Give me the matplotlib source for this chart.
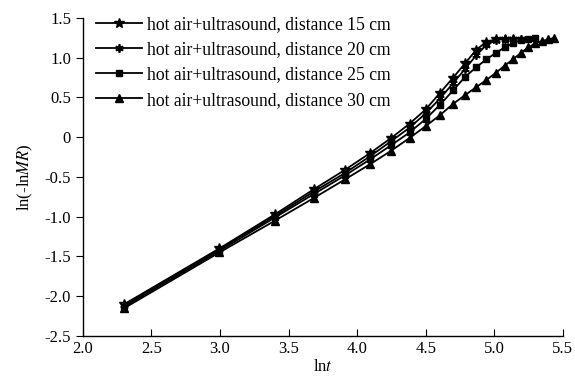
import matplotlib
matplotlib.use("Agg")
import matplotlib.pyplot as plt

plt.rcParams['font.family'] = ['Liberation Serif', 'DejaVu Serif']
plt.rcParams['mathtext.fontset'] = 'stix'
plt.rcParams['axes.unicode_minus'] = False

# ln t, t = 10, 20, ... min
lnt = [2.303, 2.996, 3.401, 3.689, 3.912, 4.094, 4.248, 4.382, 4.500, 4.605,
       4.700, 4.787, 4.868, 4.942, 5.011, 5.075, 5.136, 5.193, 5.247, 5.298,
       5.347, 5.394, 5.438]

d15 = [-2.10, -1.40, -0.97, -0.65, -0.41, -0.20, -0.01, 0.17, 0.35, 0.56,
       0.75, 0.93, 1.10, 1.20, 1.23, 1.24, 1.24]
d20 = [-2.11, -1.41, -0.99, -0.68, -0.45, -0.24, -0.05, 0.12, 0.30, 0.49,
       0.68, 0.86, 1.03, 1.16, 1.22, 1.24, 1.24, 1.24]
d25 = [-2.13, -1.43, -1.01, -0.71, -0.48, -0.28, -0.10, 0.06, 0.23, 0.41,
       0.59, 0.76, 0.88, 0.98, 1.06, 1.13, 1.18, 1.22, 1.24, 1.25]
d30 = [-2.15, -1.45, -1.05, -0.76, -0.53, -0.34, -0.17, -0.01, 0.14, 0.28,
       0.42, 0.53, 0.63, 0.72, 0.81, 0.90, 0.98, 1.06, 1.13, 1.18,
       1.21, 1.23, 1.25]

labels = ['hot air+ultrasound, distance 15 cm',
          'hot air+ultrasound, distance 20 cm',
          'hot air+ultrasound, distance 25 cm',
          'hot air+ultrasound, distance 30 cm']

xticks = [2.0, 2.5, 3.0, 3.5, 4.0, 4.5, 5.0, 5.5]
yticks = [-2.5, -2.0, -1.5, -1.0, -0.5, 0, 0.5, 1.0, 1.5]
ytick_labels = ['-2.5', '-2.0', '-1.5', '-1.0', '-0.5', '0', '0.5', '1.0', '1.5']

fig = plt.figure(figsize=(5.75, 3.83), dpi=100)
ax = fig.add_axes([0.144, 0.123, 0.835, 0.830])

ax.plot(lnt[:len(d15)], d15, color='black', lw=1.3, marker='*', ms=7, label=labels[0])
ax.plot(lnt[:len(d20)], d20, color='black', lw=1.3, marker=(6, 2, 0), ms=6, mew=1.3, label=labels[1])
ax.plot(lnt[:len(d25)], d25, color='black', lw=1.3, marker='s', ms=4.5, label=labels[2])
ax.plot(lnt[:len(d30)], d30, color='black', lw=1.3, marker='^', ms=5.5, label=labels[3])

ax.set_xlim(2.0, 5.5)
ax.set_ylim(-2.5, 1.5)
ax.set_xticks(xticks)
ax.set_xticklabels(['%.1f' % v for v in xticks])
ax.set_yticks(yticks)
ax.set_yticklabels(ytick_labels)
ax.tick_params(axis='x', direction='in', length=5, labelsize=12, pad=4)
ax.tick_params(axis='y', direction='out', length=5, labelsize=12)
ax.spines['top'].set_visible(False)
ax.spines['right'].set_visible(False)
for s in ['left', 'bottom']:
    ax.spines[s].set_linewidth(1.0)

ax.set_xlabel(r'ln$\it{t}$', fontsize=12, labelpad=1)
ax.set_ylabel(r'ln(-ln$\it{MR}$)', fontsize=12, labelpad=7)

ax.legend(loc='upper left', bbox_to_anchor=(-0.005, 1.057), frameon=False, fontsize=12.7,
          handlelength=2.6, handletextpad=0.3, labelspacing=0.47)

fig.savefig('out.png', dpi=100)
